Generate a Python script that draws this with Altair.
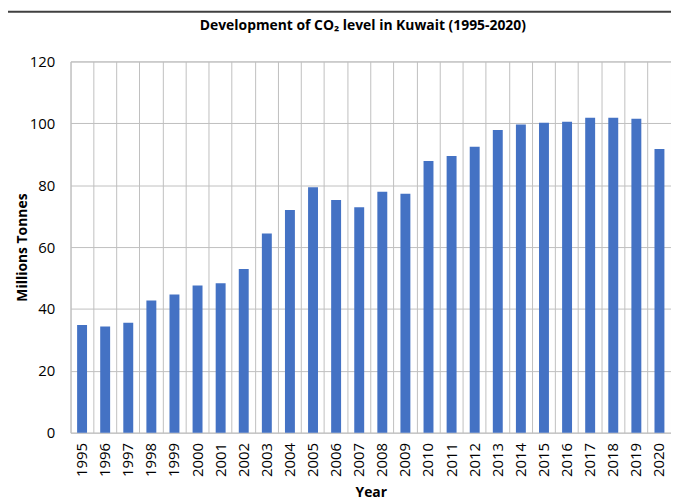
import altair as alt
import pandas as pd

years = [str(y) for y in range(1995, 2021)]
values = [34.8, 34.3, 35.5, 42.7, 44.7, 47.6, 48.3, 52.9, 64.4, 72.0, 79.3, 75.2,
          72.9, 77.9, 77.2, 87.8, 89.4, 92.4, 97.8, 99.6, 100.2, 100.5, 101.8,
          101.8, 101.5, 91.7]

df = pd.DataFrame({"Year": years, "Value": values})

FONT = "Open Sans"
GRID = "#c0c0c0"

bars = alt.Chart(df).mark_bar(
    color="#4472C4", width=alt.RelativeBandSize(0.43)
).encode(
    x=alt.X("Year:N", title="Year",
            scale=alt.Scale(paddingInner=0, paddingOuter=0),
            axis=alt.Axis(labelAngle=-90, grid=True, bandPosition=0,
                          ticks=False, domain=False, labelPadding=10,
                          titlePadding=9)),
    y=alt.Y("Value:Q", title="Millions Tonnes",
            scale=alt.Scale(domain=[0, 120]),
            axis=alt.Axis(values=[0, 20, 40, 60, 80, 100, 120], grid=True,
                          ticks=False, domain=False, labelPadding=16,
                          titlePadding=0)),
)

frame_data = alt.Data(values=[{"a": 1}])
frame_top = alt.Chart(frame_data).mark_rule(color="#404040", strokeWidth=2).encode(
    x=alt.value(-64), x2=alt.value(720), y=alt.value(-50)
)
frame_left = alt.Chart(frame_data).mark_rule(color="#404040", strokeWidth=2).encode(
    x=alt.value(-64), y=alt.value(-51), y2=alt.value(520)
)

chart = alt.layer(bars, frame_top, frame_left).properties(
    width=605,
    height=374,
    autosize=alt.AutoSizeParams(type="none"),
    padding={"left": 63, "top": 52, "right": 0, "bottom": 66},
    title=alt.TitleParams("Development of CO₂ level in Kuwait (1995-2020)",
                          fontSize=14, font=FONT, fontWeight="bold",
                          anchor="middle", offset=-23, dx=-8, color="#000000"),
).configure_axis(
    labelFont=FONT, titleFont=FONT, labelFontSize=15, titleFontSize=14,
    labelColor="#000000", titleColor="#000000", gridColor=GRID, gridWidth=1,
    titleFontWeight="bold",
).configure_view(
    stroke=GRID, strokeWidth=1
)

chart.save("out.html", embed_options={"renderer": "svg", "actions": False})
